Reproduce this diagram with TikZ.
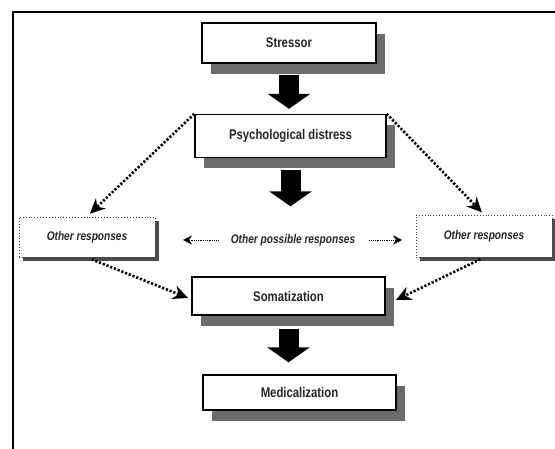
\documentclass[tikz,border=0pt]{standalone}
\usepackage{fontspec}
\newfontfamily\nf{Liberation Sans}[FakeStretch=0.81]
\usetikzlibrary{arrows.meta,shadows}
\begin{document}
\begin{tikzpicture}[x=1pt,y=-1pt,
  mainbox/.style={draw=black, line width=1.4pt, fill=white, text=black!85,
    font=\nf\bfseries\fontsize{14}{16}\selectfont, inner sep=0pt,
    drop shadow={shadow xshift=9pt,shadow yshift=-11pt,fill=black!58,opacity=1}},
  otherbox/.style={draw=black!75, dotted, line width=0.9pt, fill=white, text=black!85,
    font=\nf\bfseries\itshape\fontsize{12.5}{15}\selectfont, inner sep=0pt,
    minimum width=136pt, minimum height=40pt,
    drop shadow={shadow xshift=3.5pt,shadow yshift=-4pt,fill=black!70,opacity=1}},
  blockarrow/.style={line width=20pt, black, -{Triangle[length=15pt,width=42pt]}},
  dotarrow/.style={line width=2.6pt, black, dash pattern=on 2.2pt off 1.8pt,
    -{Stealth[length=15pt,width=14pt]}},
  thinarrow/.style={line width=0.8pt, black, dash pattern=on 1pt off 0.8pt,
    -{Stealth[length=9pt,width=9pt]}},
  labeltext/.style={text=black!85, font=\nf\bfseries\itshape\fontsize{12.5}{15}\selectfont, inner sep=0pt}
]
\useasboundingbox (0,0) rectangle (555,449);
% outer frame
\draw[line width=2pt] (13,449) -- (13,12) -- (555,12);

% boxes
\node[mainbox, minimum width=174pt, minimum height=40pt] (stressor) at (289,43) {Stressor};
\node[mainbox, minimum width=191pt, minimum height=43pt] (psych) at (290.5,136) {Psychological distress};
\node[mainbox, minimum width=193pt, minimum height=38pt] (soma) at (288.5,296) {Somatization};
\node[mainbox, minimum width=193pt, minimum height=35pt] (medic) at (299.5,392.5) {Medicalization};
\node[otherbox] (oleft) at (87,237) {Other responses};
\node[otherbox, minimum height=42pt] (oright) at (484,236) {Other responses};
\node[labeltext] (opr) at (293,240) {Other possible responses};
\coordinate (la) at (183,240);
\coordinate (ra) at (402,240);
\coordinate (sw) at (188,298);
\coordinate (se) at (396,300);

% block arrows
\draw[blockarrow, shorten <=11pt, shorten >=5pt] (stressor.south) -- (stressor.south |- psych.north);
\draw[blockarrow, shorten <=12pt, shorten >=70pt] (psych.south) -- (psych.south |- soma.north);
\draw[blockarrow, shorten <=13pt, shorten >=12pt] (soma.south) -- (soma.south |- medic.north);

% dotted arrows
\draw[dotarrow, shorten >=4pt] (psych.north west) -- (oleft.north);
\draw[dotarrow, shorten >=3pt] (psych.north east) -- (oright.north);
\draw[dotarrow, shorten <=5pt] (oleft.south) -- (sw);
\draw[dotarrow, shorten <=4pt] (oright.south) -- (se);

% other possible responses arrows
\draw[thinarrow, shorten <=12pt] (opr.west) -- (la);
\draw[thinarrow, shorten <=14pt] (opr.east) -- (ra);
\end{tikzpicture}
\end{document}
